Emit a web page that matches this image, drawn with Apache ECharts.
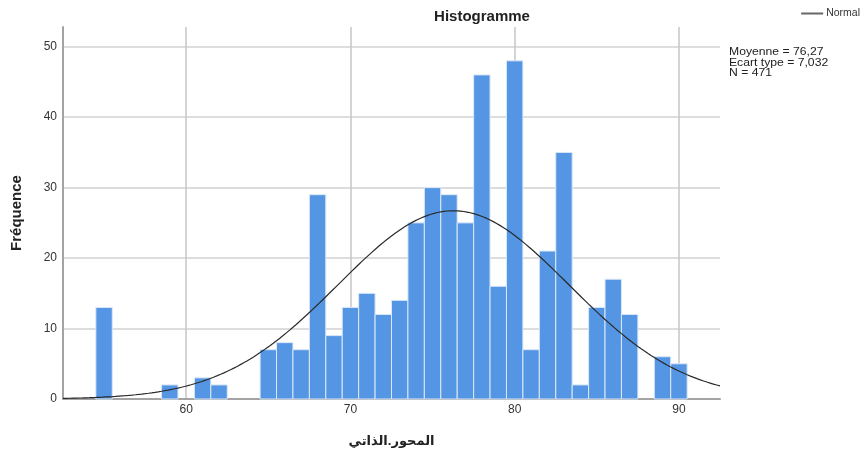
<!DOCTYPE html>
<html>
<head>
<meta charset="utf-8">
<script src="https://cdn.jsdelivr.net/npm/echarts@6/dist/echarts.min.js"></script>
<style>
  html, body { margin: 0; padding: 0; background: #ffffff; }
  #chart { width: 866px; height: 453px; }
</style>
</head>
<body>
<div id="chart"></div>
<script>
// Bin centres (width 1) and their frequencies
const binCenters = [55, 59, 61, 62, 65, 66, 67, 68, 69, 70, 71, 72, 73, 74, 75, 76, 77, 78, 79, 80, 81, 82, 83, 84, 85, 86, 87, 89, 90];
const frequencies = [13, 2, 3, 2, 7, 8, 7, 29, 9, 13, 15, 12, 14, 25, 30, 29, 25, 46, 16, 48, 7, 21, 35, 2, 13, 17, 12, 6, 5];

// Summary statistics shown beside the plot; the normal curve is drawn from them
const meanValue = 76.27;
const sdValue = 7.032;
const nValue = 471;
const binWidth = 1;

const xMin = 52.5, xMax = 92.5;
const yMax = 52.8;

const barData = binCenters.map((c, i) => [c, frequencies[i]]);

// Normal density scaled to counts (N * bin width * pdf)
const curveData = [];
for (let x = xMin; x <= xMax + 1e-9; x += 0.2) {
  const z = (x - meanValue) / sdValue;
  const y = nValue * binWidth * Math.exp(-0.5 * z * z) / (sdValue * Math.sqrt(2 * Math.PI));
  curveData.push([x, y]);
}

const fmt = v => String(v).replace('.', ',');
const statsText = [
  'Moyenne = ' + fmt(meanValue),
  'Ecart type = ' + fmt(sdValue),
  'N = ' + nValue
].join('\n');

const chart = echarts.init(document.getElementById('chart'), null, { renderer: 'canvas' });

chart.setOption({
  animation: false,
  backgroundColor: '#ffffff',
  textStyle: { fontFamily: '"Liberation Sans", Arial, sans-serif' },
  title: {
    text: 'Histogramme',
    left: 477, top: 4,
    textAlign: 'center',
    textStyle: { fontSize: 15, fontWeight: 'bold', color: '#222', fontFamily: '"Liberation Sans", Arial, sans-serif' }
  },
  legend: {
    right: 1, top: 3,
    itemWidth: 22, itemHeight: 2, itemGap: 4,
    icon: 'rect',
    data: [{ name: 'Normal', itemStyle: { color: '#666' } }],
    textStyle: { fontSize: 10.5, color: '#333', padding: [0, 0, 0, -2] }
  },
  grid: { left: 63, right: 146, top: 27, bottom: 53, containLabel: false },
  xAxis: {
    type: 'value',
    min: xMin, max: xMax,
    splitNumber: 4,
    name: 'المحور.الذاتي',
    nameLocation: 'middle',
    nameGap: 36,
    nameTextStyle: { fontSize: 13, fontWeight: 'bold', color: '#222', fontFamily: '"Noto Sans", "DejaVu Sans", sans-serif' },
    axisLine: { show: true, onZero: false, lineStyle: { color: '#a3a3a3', width: 2 } },
    axisTick: { show: false },
    axisLabel: { showMinLabel: false, showMaxLabel: false, fontSize: 12, color: '#333', margin: 5 },
    splitLine: { show: true, showMinLine: false, showMaxLine: false, lineStyle: { color: '#c6c6c6', width: 1.5 } }
  },
  yAxis: {
    type: 'value',
    min: 0, max: yMax, interval: 10,
    name: 'Fréquence',
    nameLocation: 'middle',
    nameGap: 39,
    nameTextStyle: { fontSize: 15, fontWeight: 'bold', color: '#222', fontFamily: '"Liberation Sans Narrow", "Liberation Sans", Arial, sans-serif' },
    axisLine: { show: true, lineStyle: { color: '#a3a3a3', width: 2 } },
    axisTick: { show: false },
    axisLabel: { showMaxLabel: false, fontSize: 12, color: '#333', margin: 6 },
    splitLine: { show: true, showMaxLine: false, lineStyle: { color: '#d2d2d2', width: 1.5 } }
  },
  graphic: [{
    type: 'text',
    x: 729, y: 47,
    scaleX: 1.16,
    style: {
      text: statsText,
      fontSize: 10.5,
      lineHeight: 10.6,
      fill: '#222',
      fontFamily: '"Liberation Sans", Arial, sans-serif'
    }
  }],
  series: [
    {
      name: 'Fréquence',
      type: 'custom',
      data: barData,
      encode: { x: 0, y: 1 },
      z: 2,
      renderItem: (params, api) => {
        const c = api.value(0), v = api.value(1);
        const p0 = api.coord([c - binWidth / 2, v]);
        const p1 = api.coord([c + binWidth / 2, 0]);
        return {
          type: 'rect',
          shape: { x: p0[0], y: p0[1], width: p1[0] - p0[0], height: p1[1] - p0[1] },
          style: { fill: '#5596e4', stroke: '#dbe8f8', lineWidth: 1 }
        };
      }
    },
    {
      name: 'Normal',
      type: 'line',
      data: curveData,
      symbol: 'none',
      smooth: false,
      z: 3,
      lineStyle: { color: '#2a2a2a', width: 1.2 },
      itemStyle: { color: '#666' }
    }
  ]
});
</script>
</body>
</html>
